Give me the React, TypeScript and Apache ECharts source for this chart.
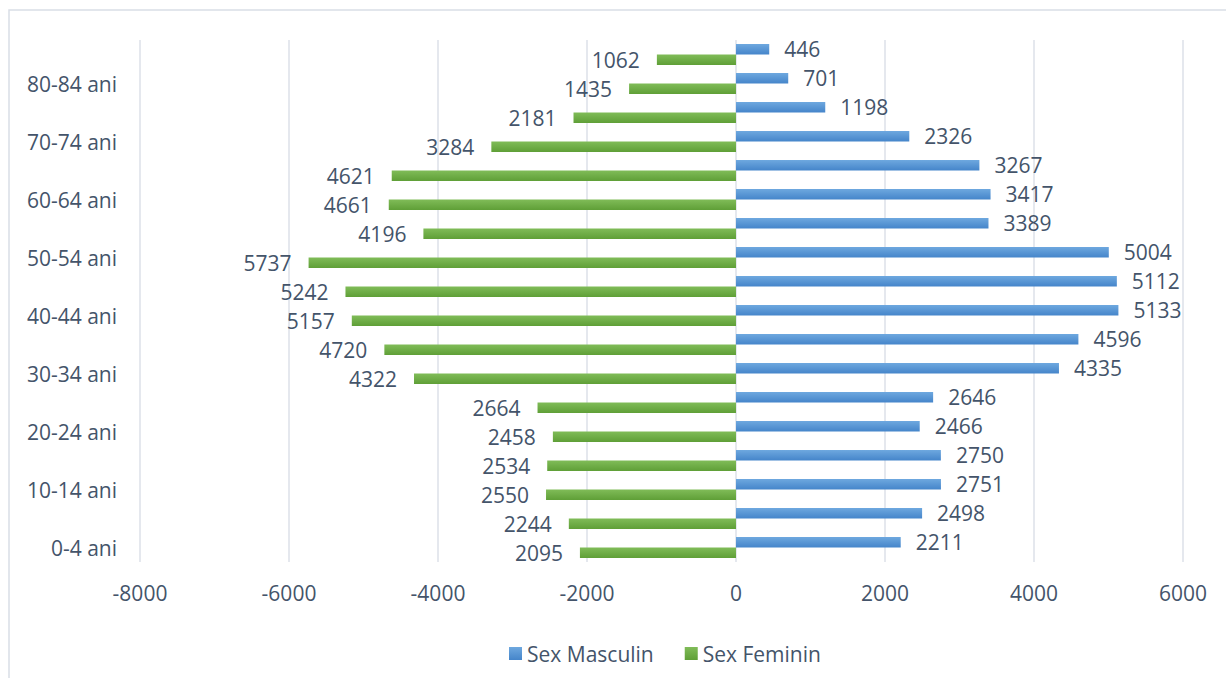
import React, { useEffect, useRef } from "react";
import * as echarts from "echarts";

const categories = [
  "0-4 ani", "5-9 ani", "10-14 ani", "15-19 ani", "20-24 ani", "25-29 ani",
  "30-34 ani", "35-39 ani", "40-44 ani", "45-49 ani", "50-54 ani", "55-59 ani",
  "60-64 ani", "65-69 ani", "70-74 ani", "75-79 ani", "80-84 ani", "85+ ani",
];
const male = [2211, 2498, 2751, 2750, 2466, 2646, 4335, 4596, 5133, 5112, 5004, 3389, 3417, 3267, 2326, 1198, 701, 446];
const female = [2095, 2244, 2550, 2534, 2458, 2664, 4322, 4720, 5157, 5242, 5737, 4196, 4661, 4621, 3284, 2181, 1435, 1062];
const xTicks = { min: -8000, max: 6000, interval: 2000 };

const TEXT = "#44546A";
const FONT = "'Open Sans', 'Noto Sans', sans-serif";
const FS = 21;

export default function App() {
  const ref = useRef<HTMLDivElement>(null);
  useEffect(() => {
    const chart = echarts.init(ref.current!, null, { renderer: "svg" });
    const blue = new echarts.graphic.LinearGradient(0, 0, 0, 1, [
      { offset: 0, color: "#6EA8DF" },
      { offset: 1, color: "#4585CA" },
    ]);
    const green = new echarts.graphic.LinearGradient(0, 0, 0, 1, [
      { offset: 0, color: "#80BC58" },
      { offset: 1, color: "#5F9F37" },
    ]);
    chart.setOption({
      animation: false,
      textStyle: { fontFamily: FONT },
      graphic: [
        {
          type: "rect",
          shape: { x: 9, y: 10, width: 1400, height: 800 },
          style: { fill: "none", stroke: "#D9DEE6", lineWidth: 1.5 },
          silent: true,
        },
      ],
      grid: { left: 140, right: 43, top: 40, bottom: 116, containLabel: false },
      legend: {
        data: ["Sex Masculin", "Sex Feminin"],
        bottom: 9,
        left: 504,
        itemWidth: 13,
        itemHeight: 13,
        itemGap: 31,
        icon: "rect",
        textStyle: { color: TEXT, fontSize: FS, fontFamily: FONT },
      },
      xAxis: {
        type: "value",
        min: xTicks.min,
        max: xTicks.max,
        interval: xTicks.interval,
        axisLine: { show: false },
        axisTick: { show: false },
        splitLine: { show: true, lineStyle: { color: "#DDE1E8", width: 1.5 } },
        axisLabel: {
          color: TEXT,
          fontSize: FS,
          fontFamily: FONT,
          margin: 20,
          formatter: (v: number) => String(v),
        },
      },
      yAxis: {
        type: "category",
        data: categories,
        axisLine: { show: false },
        axisTick: { show: false },
        splitLine: { show: false },
        axisLabel: {
          color: TEXT,
          fontSize: FS,
          fontFamily: FONT,
          interval: 1,
          margin: 23,
        },
      },
      series: [
        {
          name: "Sex Masculin",
          type: "bar",
          data: male,
          barWidth: 10.5,
          barGap: "0%",
          itemStyle: { color: blue },
          label: {
            show: true,
            position: "right",
            distance: 15,
            color: TEXT,
            fontSize: FS,
            fontFamily: FONT,
          },
        },
        {
          name: "Sex Feminin",
          type: "bar",
          data: female.map((v) => -v),
          barWidth: 10.5,
          barGap: "0%",
          itemStyle: { color: green },
          label: {
            show: true,
            position: "left",
            distance: 17,
            color: TEXT,
            fontSize: FS,
            fontFamily: FONT,
            formatter: (p: any) => String(Math.abs(p.value)),
          },
        },
      ],
    });
    return () => chart.dispose();
  }, []);
  return (
    <div
      ref={ref}
      style={{ position: "fixed", left: 0, top: 0, width: 1226, height: 678, background: "#fff" }}
    />
  );
}
